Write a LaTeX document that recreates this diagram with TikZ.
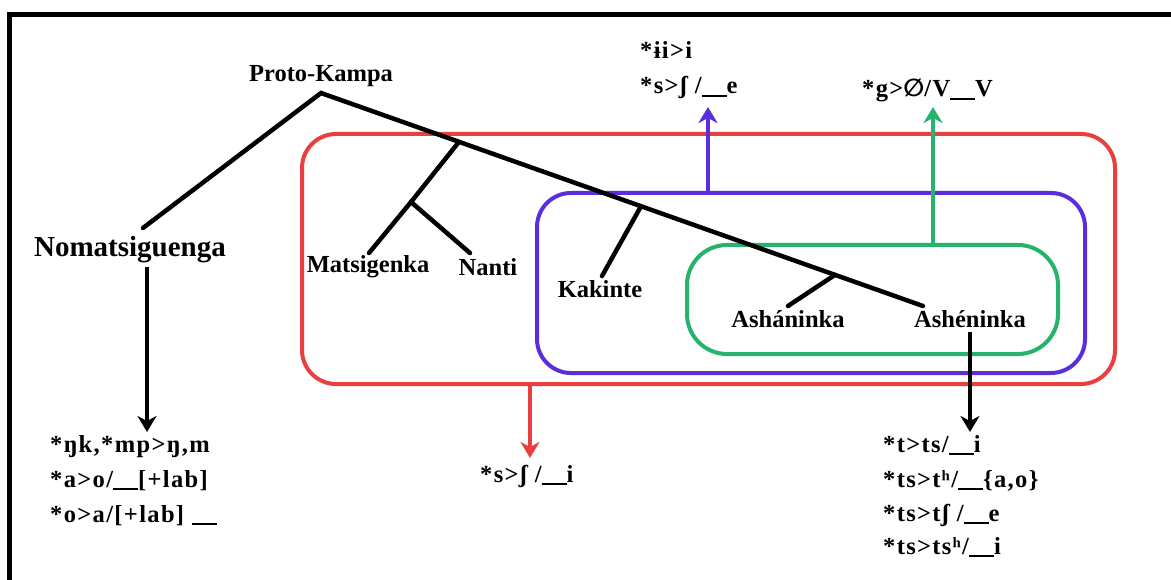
\documentclass[tikz,border=0pt]{standalone}
\usepackage{fontspec}
\setmainfont{Liberation Serif}
\newfontfamily\symfont{DejaVu Sans}
\usetikzlibrary{arrows.meta,calc}
\definecolor{grpred}{HTML}{E8403F}
\definecolor{grppurple}{HTML}{5A2EDC}
\definecolor{grpgreen}{HTML}{25B36E}
% environment blank in a sound rule
\newcommand{\envgap}{\rule[-3pt]{25pt}{2.2pt}}
\begin{document}
\begin{tikzpicture}[x=1pt,y=-1pt,
  lang/.style={font=\fontsize{24.5}{29}\selectfont\bfseries, inner sep=0pt},
  soundrule/.style={font=\fontsize{24.5}{29}\selectfont\bfseries\addfontfeatures{LetterSpace=5.5},
    inner sep=0pt, anchor=base west},
  branch/.style={line width=4.5pt, line cap=round},
  group/.style={line width=4pt, rounded corners=34pt, draw, inner sep=0pt},
  change/.style={line width=4.5pt, -{Stealth[length=16pt,width=19pt,inset=5pt]}}]

\useasboundingbox (0,0) rectangle (1171,580);
\fill[white] (0,0) rectangle (1171,580);
% frame edges
\draw[line width=5pt] (9.5,580) -- (9.5,14.5) -- (1171,14.5);

% nested subgroups
\node[group, draw=grpred, minimum width=813pt, minimum height=250pt] (redgrp) at (708.5,259) {};
\node[group, draw=grppurple, minimum width=548pt, minimum height=180pt] (purgrp) at (811,283) {};
\node[group, draw=grpgreen, rounded corners=40pt, minimum width=371pt, minimum height=109pt] (grngrp) at (872.5,299.5) {};

% language names
\node[lang] (pk) at (321,76) {Proto-Kampa};
\node[lang, font=\fontsize{29}{33}\selectfont\bfseries] (nom) at (130,250) {Nomatsiguenga};
\node[lang] (mat) at (368,267) {Matsigenka};
\node[lang] (nan) at (488,267) {Nanti};
\node[lang] (kak) at (600,289) {Kakinte};
\node[lang] (asa) at (788,319) {Asháninka};
\node[lang] (ase) at (970,319) {Ashéninka};

% tree
\coordinate (root) at (321,93);
\coordinate (nomT) at (143,228);
\coordinate (aseT) at (923,306);
\coordinate (j1) at ($(root)!0.2292!(aseT)$);
\coordinate (j2) at (411,202);
\coordinate (matT) at (369,253);
\coordinate (nanT) at (470,253);
\coordinate (jk) at ($(root)!0.5316!(aseT)$);
\coordinate (kakT) at (602,276);
\coordinate (ja) at ($(root)!0.8538!(aseT)$);
\coordinate (asaT) at (788,306);
\draw[branch] (nomT) -- (root) -- (aseT);
\draw[branch] (j1) -- (j2);
\draw[branch] (matT) -- (j2) -- (nanT);
\draw[branch] (jk) -- (kakT);
\draw[branch] (ja) -- (asaT);

% sound changes
\node[soundrule] (r1) at (640,59) {*ɨi>i};
\node[soundrule] (r2) at (640,94) {*s>ʃ /\envgap e};
\node[soundrule] (r3) at (862,97) {*g>{\symfont ∅}/V\envgap V};
\node[soundrule] (r4) at (480,482) {*s>ʃ /\envgap i};
\node[soundrule] (l1) at (50,452) {*ŋk,*mp>ŋ,m};
\node[soundrule] (l2) at (50,487) {*a>o/\envgap[+lab]};
\node[soundrule] (l3) at (50,522) {*o>a/[+lab] \envgap};
\node[soundrule] (s1) at (883,452) {*t>ts/\envgap i};
\node[soundrule] (s2) at (883,487) {*ts>tʰ/\envgap\{a,o\}};
\node[soundrule] (s3) at (883,521) {*ts>tʃ /\envgap e};
\node[soundrule] (s4) at (883,554) {*ts>tsʰ/\envgap i};

% arrows to the changes
\coordinate (purTip) at (708,107);
\coordinate (grnTip) at (933,107);
\coordinate (redTip) at (530,458);
\coordinate (nomTip) at (147,432);
\coordinate (aseTip) at (970,432);
\draw[change, grppurple] (purgrp.north -| purTip) -- (purTip);
\draw[change, grpgreen] (grngrp.north -| grnTip) -- (grnTip);
\draw[change, grpred] (redgrp.south -| redTip) -- (redTip);
\draw[change] ($(nom.south -| nomTip)+(0,4)$) -- (nomTip);
\draw[change] ($(ase.south)+(0,4)$) -- (aseTip);
\end{tikzpicture}
\end{document}
